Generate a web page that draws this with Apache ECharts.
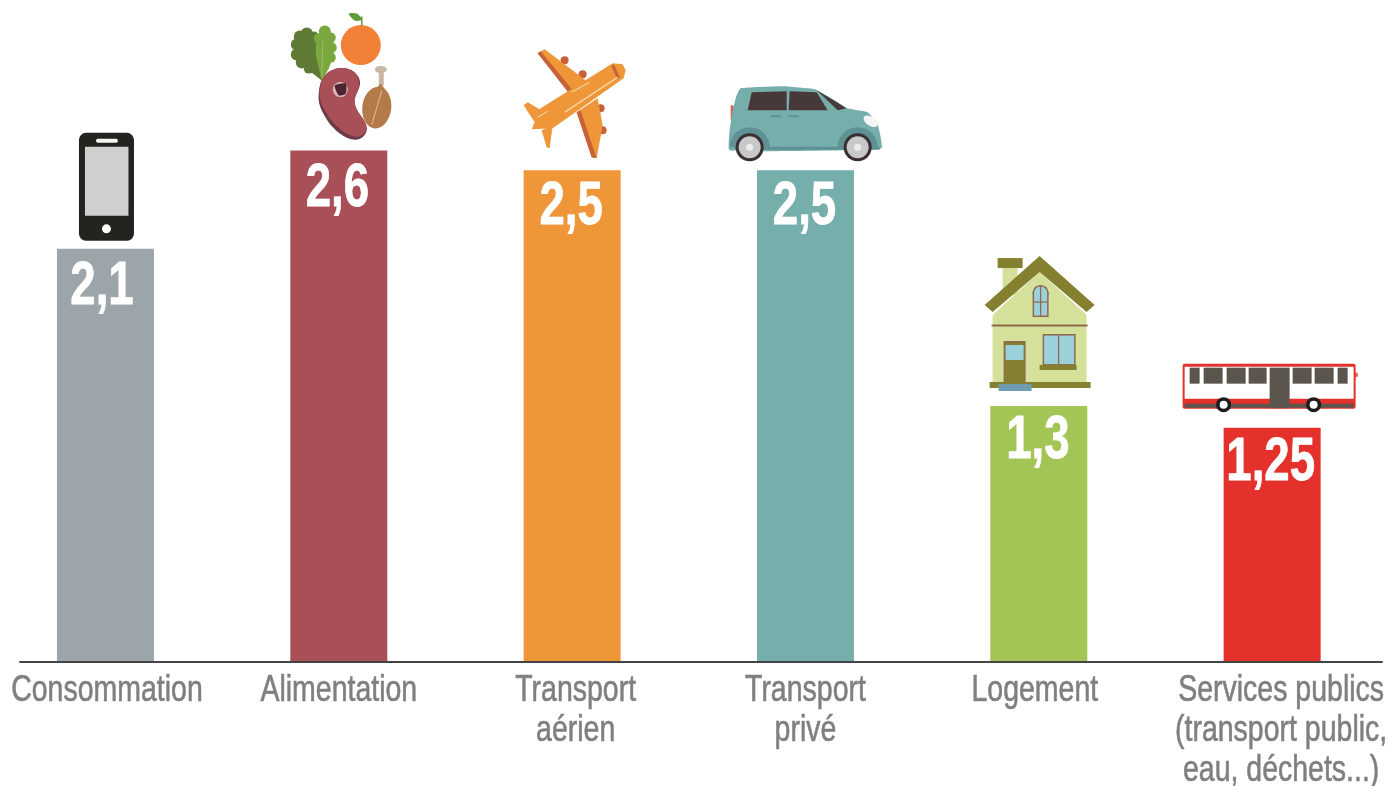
<!DOCTYPE html>
<html lang="fr">
<head>
<meta charset="utf-8">
<style>html,body{margin:0;padding:0;background:#fff}#c{width:1391px;height:786px}</style>
<script src="https://cdn.jsdelivr.net/npm/echarts@6/dist/echarts.min.js"></script>
</head>
<body>
<div id="c"></div>
<script>
const categories = ['Consommation', 'Alimentation', 'Transport\naérien', 'Transport\nprivé', 'Logement', 'Services publics\n(transport public,\neau, déchets...)'];
const valueLabels = ['2,1', '2,6', '2,5', '2,5', '1,3', '1,25'];
// Bar heights as drawn in the picture (the last bar is drawn shorter than its printed 1,25).
const barHeights = [2.1, 2.6, 2.5, 2.5, 1.3, 1.19];
const barColors = ['#9ca5aa', '#a94f58', '#ee9638', '#75aeab', '#a2c556', '#e4312b'];

const FONT = '"Liberation Sans",Arial,sans-serif';
// Small placement nudges of the printed texts relative to their bar.
const catNudgeX = [1.5, 0, 3.5, 0, -4, 9];
const valNudgeX = [-3.5, -1.5, -1, -1, -1, -1.5];
const valNudgeY = [7, 7, 6, 6, 4, 4];

const rect = (x0, y0, x1, y1, fill, r) => ({ type: 'rect', shape: { x: x0, y: y0, width: x1 - x0, height: y1 - y0, r: r || 0 }, style: { fill } });
const circ = (cx, cy, r, fill) => ({ type: 'circle', shape: { cx, cy, r }, style: { fill } });
const poly = (points, fill, smooth) => ({ type: 'polygon', shape: { points, smooth: smooth || 0 }, style: { fill } });
const seg = (x1, y1, x2, y2, stroke, lineWidth) => ({ type: 'line', shape: { x1, y1, x2, y2 }, style: { stroke, lineWidth } });
const ell = (cx, cy, rx, ry, fill, rot) => ({ type: 'ellipse', x: cx, y: cy, rotation: rot || 0, shape: { cx: 0, cy: 0, rx, ry }, style: { fill } });
const arch = (cx, cy, r, fill) => ({ type: 'sector', shape: { cx, cy, r, r0: 0, startAngle: Math.PI, endAngle: 2 * Math.PI }, style: { fill } });

function phone() {
  return [
    rect(79, 133, 134, 241, '#24231f', 7),
    rect(85, 147, 128.5, 216, '#d0d0d0'),
    rect(96, 139, 118, 143, '#f4f4f4', 2),
    circ(106.5, 229, 4.5, '#ffffff')
  ];
}
function food() {
  const dk = '#5f7a35', lt = '#7aa83f';
  const lumpsD = [[297, 44, 6], [300, 36, 6], [307, 33, 6], [314, 36, 5], [297, 54, 6], [302, 62, 6], [309, 68, 5]];
  const lumpsL = [[325, 31, 6], [331, 37, 5], [332, 47, 5], [331, 57, 5], [319, 38, 5]];
  return [].concat(
    lumpsD.map(c => circ(c[0], c[1], c[2], dk)),
    [poly([[322, 80], [304, 66], [296, 48], [305, 34], [316, 34], [324, 55]], dk)],
    lumpsL.map(c => circ(c[0], c[1], c[2], lt)),
    [
      poly([[322, 80], [316, 55], [316, 36], [326, 27], [333, 38], [334, 55], [329, 68]], lt),
      seg(322, 78, 323, 40, '#97bd62', 1),
      circ(361, 44.5, 20, '#f08136'),
      poly([[349, 13], [357, 13], [362, 19], [355, 20]], '#5f9a3a', 0.3),
      seg(362, 16, 362, 25, '#5f9a3a', 1.5),
      poly([[319, 92], [327, 73], [347, 68], [360, 80], [355, 103], [367, 128], [358, 139], [340, 133], [323, 112]], '#6e3a48', 0.4),
      poly([[320, 90], [328, 72], [347, 68], [359, 80], [355, 103], [367, 127], [358, 136], [341, 129], [324, 108]], '#a94f57', 0.4),
      circ(340.5, 89, 7.5, '#d9b9b9'),
      poly([[335, 85], [346, 83], [346, 93], [339, 95]], '#4c2530', 0.2),
      rect(379, 70, 384, 86, '#c9b7a5', 2),
      ell(381, 69, 6, 3.5, '#c9b7a5'),
      poly([[381, 83], [386, 90], [372, 92], [376, 88]], '#b57a4a'),
      ell(377, 107, 14.5, 21, '#b57a4a', -0.12),
      seg(382, 90, 372, 124, '#e7cdb0', 0.8)
    ]
  );
}
function plane() {
  const o = '#ee9638', d = '#c6623a';
  return [
    circ(565, 60, 4, d), circ(583, 74, 4, d), circ(601, 108, 4, d), circ(603, 130, 4, d),
    poly([[538, 53], [545, 49], [590, 83], [572, 93]], o),
    poly([[538, 53], [541, 51], [574, 91], [570, 94]], d),
    poly([[577, 112], [598, 98], [603, 125], [597, 158], [592, 157]], o),
    poly([[577, 112], [581, 110], [597, 158], [592, 157]], d),
    poly([[524, 105], [528, 102], [545, 112], [535, 122]], o),
    poly([[542, 130], [553, 125], [550, 148], [547, 147]], o),
    poly([[532, 129], [541, 108], [613, 63], [623, 64], [626, 70], [624, 78], [553, 128]], o),
    seg(613, 65, 619, 78, d, 3),
    seg(565, 112, 618, 77, '#f7e4bd', 1.2),
    seg(572, 92, 590, 82, '#f7e4bd', 1),
    seg(538, 117, 548, 111, '#f7e4bd', 1)
  ];
}
function car() {
  const b = '#75aeab', a = '#5e9094', w = '#47393a';
  return [
    rect(731, 105, 734, 120, '#d7665a', 1),
    poly([[730, 150], [730, 130], [733, 110], [737, 95], [741, 88], [783, 86], [815, 89], [835, 100], [847, 108], [868, 112], [878, 124], [882, 148], [845, 150]], b, 0.12),
    poly([[748, 110], [752, 92], [787, 91], [787, 110]], w),
    poly([[790, 91], [817, 92], [828, 110], [789, 110]], w),
    poly([[817, 90], [847, 108], [838, 110]], w),
    seg(771, 116, 781, 116, a, 2), seg(789, 116, 799, 116, a, 2),
    ell(871, 121, 8, 4.5, '#f2f6f4', -0.6),
    seg(735, 148, 880, 148, a, 3),
    arch(750, 147, 20, a), arch(858, 147, 20, a),
    circ(750, 147, 14, '#3a2f30'), circ(858, 147, 14, '#3a2f30'),
    circ(750, 147, 11, '#c8c8c8'), circ(858, 147, 11, '#c8c8c8'),
    circ(750, 147, 3.5, '#ededed'), circ(858, 147, 3.5, '#ededed')
  ];
}
function house() {
  const wall = '#d5e09a', olive = '#85802f', glass = '#9bd1da', frame = '#8f6a4f';
  return [
    rect(1003, 268, 1018, 295, wall),
    rect(998, 258, 1023, 268, olive),
    poly([[993, 315], [1040, 272], [1087, 315], [1087, 385], [993, 385]], wall),
    poly([[985, 305], [1040, 256], [1095, 305], [1087, 312], [1040, 272], [993, 312]], olive),
    rect(1033, 292, 1049, 317, frame),
    ell(1041, 293, 8, 8, frame),
    rect(1034.5, 292, 1047.5, 315.5, glass),
    ell(1041, 293, 6.5, 6.5, glass),
    seg(1041, 286, 1041, 316, frame, 1.3), seg(1034, 302, 1048, 302, frame, 1.3),
    seg(992, 325.5, 1088, 325.5, frame, 2),
    rect(1043, 334, 1076, 365, frame),
    rect(1044.5, 335.5, 1074.5, 364, glass),
    seg(1059, 335, 1059, 364, frame, 1.3),
    rect(1040, 365, 1077, 370, olive),
    rect(1004, 341, 1026, 383, frame),
    rect(1005.5, 342.5, 1024.5, 383, olive),
    rect(1006, 345, 1024, 360, glass),
    rect(990, 382, 1091, 388, olive),
    rect(999, 384, 1032, 391, '#6e9cb0')
  ];
}
function bus() {
  const r = '#e4312b', g = '#5b554e';
  const wins = [[1190, 1200], [1204, 1223], [1227, 1246], [1249, 1267], [1293, 1312], [1315, 1334], [1338, 1348]];
  return [
    circ(1356, 374, 2.5, '#ee6a60'),
    rect(1183, 363, 1356, 408, r, 2),
    rect(1185, 366, 1354, 398, '#ffffff'),
    rect(1185, 403, 1354, 407, g),
  ].concat(wins.map(w => rect(w[0], 367, w[1], 383, g)), [
    rect(1270, 367, 1290, 407.5, g),
    circ(1224, 404, 7.5, '#1c1c1c'), circ(1224, 404, 4, '#ffffff'),
    circ(1314, 404, 7.5, '#1c1c1c'), circ(1314, 404, 4, '#ffffff')
  ]);
}
const icons = [phone, food, plane, car, house, bus];
// Reference point of each icon: the top centre of its bar.
const anchors = [[105.5, 249], [339, 150], [572.5, 170], [805.8, 170], [1039.2, 406], [1272.5, 427]];

const chart = echarts.init(document.getElementById('c'), null, { renderer: 'canvas' });
chart.setOption({
  animation: false,
  backgroundColor: '#ffffff',
  grid: [
    { left: -11.2, width: 1400, top: 72, height: 589.5, outerBoundsMode: 'none', containLabel: false },
    { left: 20, width: 1362, top: 72, height: 589.5, outerBoundsMode: 'none', containLabel: false }
  ],
  xAxis: [
    {
      gridIndex: 0, type: 'category', data: categories,
      axisLine: { show: false }, axisTick: { show: false }, axisLabel: { show: false }
    },
    {
      gridIndex: 1, type: 'category', data: [''], z: 5,
      axisLine: { show: true, lineStyle: { color: '#444444', width: 2 } },
      axisTick: { show: false }, axisLabel: { show: false }
    }
  ],
  yAxis: [
    { gridIndex: 0, type: 'value', min: 0, max: 3, show: false },
    { gridIndex: 1, type: 'value', min: 0, max: 3, show: false }
  ],
  series: [
    {
      type: 'bar', barWidth: 97, xAxisIndex: 0, yAxisIndex: 0,
      data: barHeights.map((v, i) => ({ value: v, itemStyle: { color: barColors[i] } }))
    },
    {
      // Icons standing on the bars, value texts inside them and category texts below the axis.
      // The source type is a condensed face, so the texts are narrowed horizontally.
      type: 'custom', xAxisIndex: 0, yAxisIndex: 0, silent: true, clip: false, z: 6,
      data: barHeights.map((v, i) => [i, v]),
      encode: { x: 0, y: 1 },
      renderItem: (params, api) => {
        const i = api.value(0);
        const p = api.coord([i, api.value(1)]);
        const base = api.coord([i, 0]);
        return {
          type: 'group',
          children: [
            { type: 'group', x: p[0] - anchors[i][0], y: p[1] - anchors[i][1], children: icons[i]() },
            {
              type: 'text', x: p[0] + valNudgeX[i], y: p[1] + valNudgeY[i], scaleX: 0.735,
              style: { text: valueLabels[i], fill: '#ffffff', stroke: '#ffffff', lineWidth: 0.8, fontFamily: FONT, fontWeight: 'bold', fontSize: 62, align: 'center', verticalAlign: 'top' }
            },
            {
              type: 'text', x: base[0] + catNudgeX[i], y: base[1] + 9, scaleX: 0.77,
              style: { text: categories[i], fill: '#7f7f7f', stroke: '#7f7f7f', lineWidth: 0.6, fontFamily: FONT, fontSize: 37, lineHeight: 40, align: 'center', verticalAlign: 'top' }
            }
          ]
        };
      }
    }
  ]
});
</script>
</body>
</html>
